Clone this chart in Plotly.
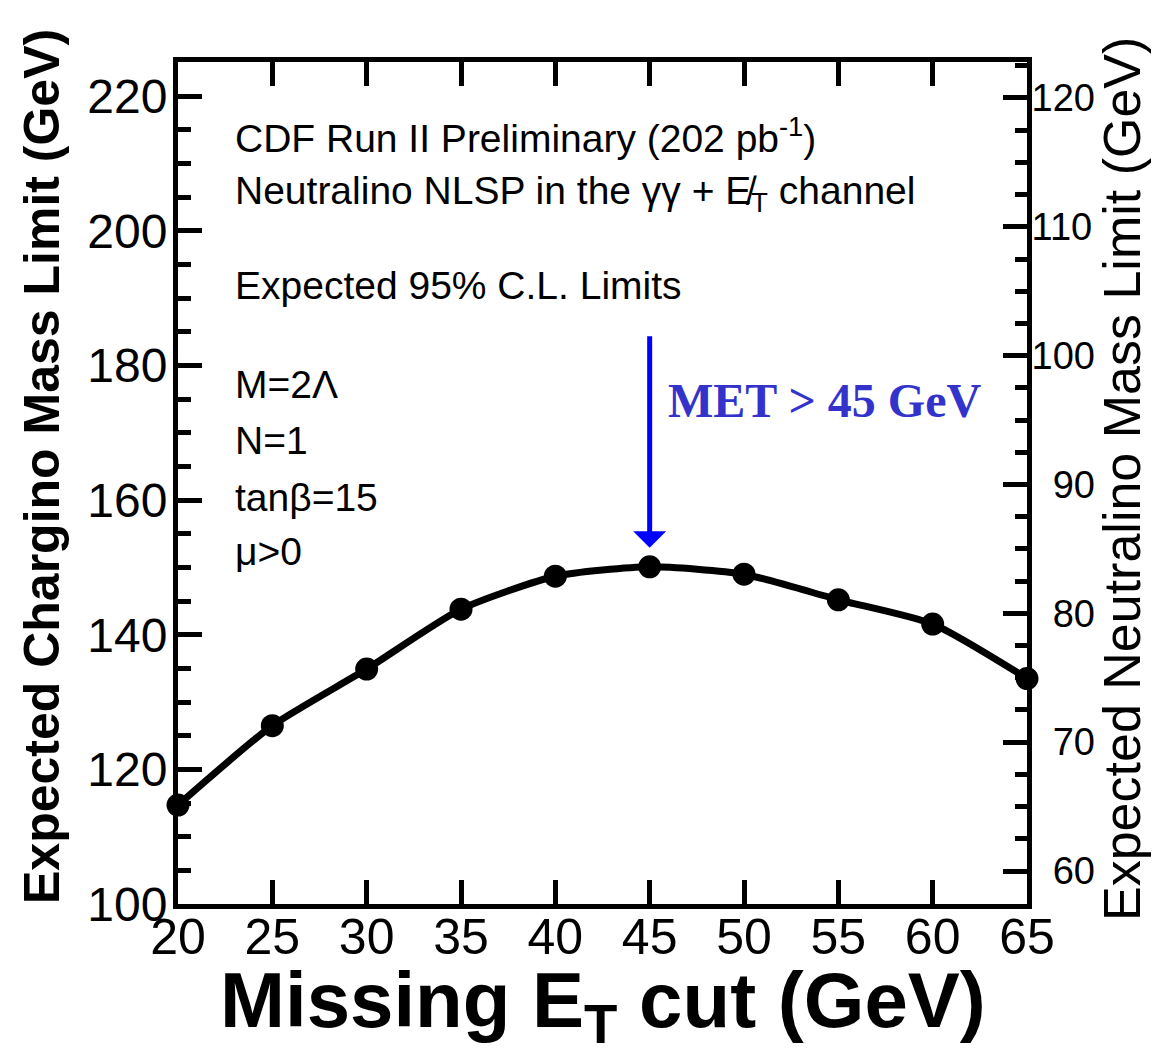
import plotly.graph_objects as go

# Expected 95% C.L. chargino mass limit vs. missing-ET cut
met_cut = [20, 25, 30, 35, 40, 45, 50, 55, 60, 65]
chargino_limit = [114.7, 126.5, 134.9, 143.8, 148.7, 150.1, 149.0, 145.2, 141.6, 133.5]

chosen_cut = 45

left_range = [100, 225.1]
right_range = [57.44, 122.79]
right_ticks = [60, 70, 80, 90, 100, 110, 120]

W, H = 1155, 1052
L, R, T, B = 178, 128, 62, 148
PW, PH = W - L - R, H - T - B


def px_x(px):
    return (px - L) / PW


def px_y(py):
    return (H - B - py) / PH


SANS = "Liberation Sans, Arial, sans-serif"
SERIF = "Liberation Serif, Times New Roman, serif"

fig = go.Figure()

fig.add_trace(go.Scatter(
    x=met_cut, y=chargino_limit, mode="lines+markers",
    line=dict(color="black", width=7, shape="spline", smoothing=0.6),
    marker=dict(color="black", size=23),
    showlegend=False, cliponaxis=False, hoverinfo="x+y",
))
# empty trace carrying the neutralino-mass axis
fig.add_trace(go.Scatter(x=[], y=[], yaxis="y2", showlegend=False))

axis_common = dict(
    showline=True, linecolor="black", linewidth=5,
    ticks="inside", tickcolor="black", tickwidth=5, ticklen=24,
    showgrid=False, zeroline=False,
)

fig.update_layout(
    width=W, height=H,
    margin=dict(l=L, r=R, t=T, b=B),
    paper_bgcolor="white", plot_bgcolor="white",
    xaxis=dict(
        range=[20, 65], tick0=20, dtick=5, mirror="ticks",
        tickfont=dict(family=SANS, size=50, color="black"),
        ticklabelstandoff=-15,
        **axis_common,
    ),
    yaxis=dict(
        range=left_range, tick0=100, dtick=20,
        tickfont=dict(family=SANS, size=48, color="black"),
        ticklabelstandoff=-4,
        minor=dict(dtick=5, tick0=100, ticks="inside", ticklen=13,
                   tickwidth=5, tickcolor="black", showgrid=False),
        **axis_common,
    ),
    yaxis2=dict(
        range=right_range, overlaying="y", side="right", anchor="x",
        tickvals=right_ticks,
        ticktext=[("\u2007" + str(v)) if v < 100 else str(v) for v in right_ticks],
        tickfont=dict(family=SANS, size=38, color="black"),
        ticklabelstandoff=-8,
        minor=dict(dtick=2.5, tick0=60, ticks="inside", ticklen=12,
                   tickwidth=5, tickcolor="black", showgrid=False),
        **axis_common,
    ),
)

ann = []

# axis titles
ann.append(dict(
    text="<b>Missing E<sub>T</sub> cut (GeV)</b>",
    x=0.5, y=px_y(1005), xref="paper", yref="paper",
    xanchor="center", yanchor="middle", showarrow=False,
    font=dict(family=SANS, size=78, color="black"),
))
ann.append(dict(
    text="<b>Expected Chargino Mass Limit (GeV)</b>",
    x=px_x(42), y=px_y(467), xref="paper", yref="paper",
    xanchor="center", yanchor="middle", showarrow=False, textangle=-90,
    font=dict(family=SANS, size=50, color="black"),
))
ann.append(dict(
    text="Expected Neutralino Mass Limit (GeV)",
    x=px_x(1122), y=px_y(479), xref="paper", yref="paper",
    xanchor="center", yanchor="middle", showarrow=False, textangle=-90,
    font=dict(family=SANS, size=52, color="black"),
))

# descriptive text block
info_lines = [
    ("CDF Run II Preliminary (202 pb<sup>-1</sup>)", 136),
    ("Neutralino NLSP in the \u03b3\u03b3 + E\u0338<sub>T</sub> channel", 194),
    ("Expected 95% C.L. Limits", 285),
    ("M=2\u039b", 384),
    ("N=1", 441),
    ("tan\u03b2=15", 497),
    ("\u03bc>0", 551),
]
for txt, ypx in info_lines:
    ann.append(dict(
        text=txt, x=px_x(233), y=px_y(ypx), xref="paper", yref="paper",
        xanchor="left", yanchor="middle", showarrow=False,
        font=dict(family=SANS, size=39, color="black"),
    ))

# highlighted cut
ann.append(dict(
    text="<b>MET > 45 GeV</b>",
    x=px_x(666), y=px_y(400), xref="paper", yref="paper",
    xanchor="left", yanchor="middle", showarrow=False,
    font=dict(family=SERIF, size=48, color="#3333cc"),
))
ann.append(dict(
    text="", x=chosen_cut, y=chargino_limit[met_cut.index(chosen_cut)],
    xref="x", yref="y", showarrow=True,
    ax=0, ay=-232, axref="pixel", ayref="pixel",
    arrowhead=1, arrowsize=1.1, arrowwidth=5, arrowcolor="#0000ff",
    standoff=19,
))

fig.update_layout(annotations=ann)

fig.write_html("out.html")
